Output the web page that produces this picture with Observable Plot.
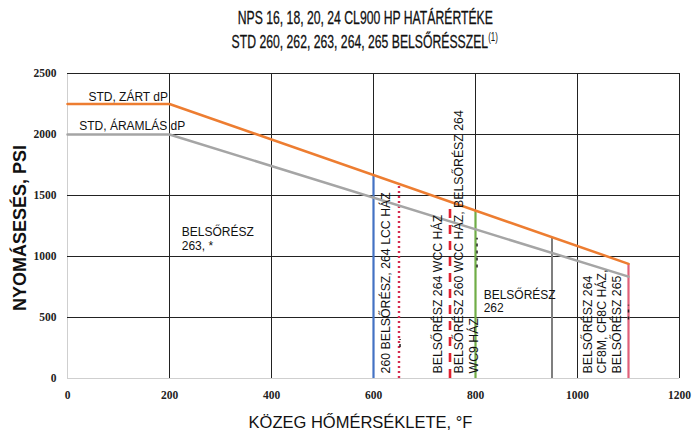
<!DOCTYPE html>
<html>
<head>
<meta charset="utf-8">
<script src="https://cdn.jsdelivr.net/npm/d3@7"></script>
<script src="https://cdn.jsdelivr.net/npm/@observablehq/plot@0.6"></script>
<style>
  html, body { margin: 0; padding: 0; background: #fff; }
  #title { width: 692px; height: 60px; box-sizing: border-box; padding-top: 6px; padding-left: 38px;
    text-align: center; font-family: "Liberation Sans", Arial, sans-serif;
    font-size: 18.5px; line-height: 24px; color: #111; -webkit-text-stroke: 0.3px #111; }
  #title span { display: inline-block; transform: scaleX(0.66); transform-origin: 50% 50%; white-space: nowrap; }
  #title sup { font-size: 12px; vertical-align: 7px; line-height: 0; -webkit-text-stroke: 0; }
  svg { display: block; }
</style>
</head>
<body>
<div id="title"><span>NPS 16, 18, 20, 24 CL900 HP HATÁRÉRTÉKE</span><br><span>STD 260, 262, 263, 264, 265 BELSŐRÉSSZEL<sup>(1)</sup></span></div>
<div id="chart"></div>
<script>
// ---- data ----
const xTicks = [0, 200, 400, 600, 800, 1000, 1200];
const yTicks = [0, 500, 1000, 1500, 2000, 2500];
const temps = [0, 200, 1100];
const closedDP = [2250, 2250, 940];   // STD, ZÁRT dP
const flowDP = [2000, 2000, 835];     // STD, ÁRAMLÁS dP
// vertical limit lines: temperature and the pressure they reach
const limitTemps = [600, 650, 750, 800, 950, 1100];
const limitTops = [1665, 1595, 1450, 1375, 1155, 940];
const limitNames = ["260/264 LCC", "264 LCC", "WCC", "WC9", "950", "CF8M"];
// small black dashed marks seen on the limit lines
const markX = [652, 803, 1100];
const markLow = [255, 905, 480];
const markHigh = [320, 1150, 600];
// annotation labels (data coordinates)
const seriesLabels = ["STD, ZÁRT dP", "STD, ÁRAMLÁS dP"];
const seriesLabelX = [41, 23];
const seriesLabelY = [2310, 2065];
const boxLabels = ["BELSŐRÉSZ\n263, *", "BELSŐRÉSZ\n262"];
const boxLabelX = [224, 816];
const boxLabelY = [1145, 632];
const vertLabels = ["260 BELSŐRÉSZ, 264 LCC HÁZ", "BELSŐRÉSZ 264 WCC HÁZ",
  "BELSŐRÉSZ 260 WCC HÁZ, BELSŐRÉSZ 264", "WC9 HÁZ",
  "BELSŐRÉSZ 264", "CF8M, CF8C HÁZ,", "BELSŐRÉSZ 265"];
const vertLabelX = [624, 727, 767, 797, 1020, 1049, 1078];
const vertLabelY = [42, 42, 42, 42, 42, 42, 42];
const xLabel = "KÖZEG HŐMÉRSÉKLETE, °F";
const yLabel = "NYOMÁSESÉS, PSI";

// ---- build tables ----
const closed = temps.map((t, i) => ({t, p: closedDP[i]}));
const flow = temps.map((t, i) => ({t, p: flowDP[i]}));
const limits = limitTemps.map((t, i) => ({t, p: limitTops[i], name: limitNames[i]}));
const marks = markX.map((t, i) => ({t, lo: markLow[i], hi: markHigh[i]}));
const sLab = seriesLabels.map((s, i) => ({s, x: seriesLabelX[i], y: seriesLabelY[i]}));
const bLab = boxLabels.map((s, i) => ({s, x: boxLabelX[i], y: boxLabelY[i]}));
const vLab = vertLabels.map((s, i) => ({s, x: vertLabelX[i], y: vertLabelY[i]}));

const limitStyle = [
  {stroke: "#4472C4", strokeWidth: 2.2, dash: null},
  {stroke: "#D42A4E", strokeWidth: 2.4, dash: "2,3"},
  {stroke: "#E0202E", strokeWidth: 2.6, dash: "9,7"},
  {stroke: "#70AD47", strokeWidth: 2.2, dash: null},
  {stroke: "#7F7F7F", strokeWidth: 2, dash: null},
  {stroke: "#E0607A", strokeWidth: 2.2, dash: null}
];

const sans = "'Liberation Sans', Arial, sans-serif";
const serif = "'Liberation Serif', 'Times New Roman', serif";
const gridColor = "#222";

const chart = Plot.plot({
  width: 692,
  height: 372,
  marginTop: 13,
  marginBottom: 54,
  marginLeft: 67,
  marginRight: 13,
  x: {domain: [0, 1200], axis: null},
  y: {domain: [0, 2500], axis: null},
  style: {fontFamily: sans, background: "#fff"},
  marks: [
    Plot.ruleX([0], {stroke: "#cfcfcf", strokeWidth: 1}),
    Plot.ruleY([0], {stroke: "#cfcfcf", strokeWidth: 1}),
    Plot.ruleX(xTicks.filter(d => d > 0), {stroke: gridColor, strokeWidth: 1}),
    Plot.ruleY(yTicks.filter(d => d > 0), {stroke: gridColor, strokeWidth: 1}),
    Plot.axisX({ticks: xTicks, tickSize: 0, tickPadding: 12, label: null, tickFormat: d => String(d),
      fontFamily: serif, fontWeight: "bold", fontSize: 11.5, fill: "#222"}),
    Plot.axisY({ticks: yTicks, tickSize: 0, tickPadding: 11, label: null, tickFormat: d => String(d),
      fontFamily: serif, fontWeight: "bold", fontSize: 11.5, fill: "#222"}),
    ...limits.map((d, i) => Plot.ruleX([d], {x: "t", y1: 0, y2: "p",
      stroke: limitStyle[i].stroke, strokeWidth: limitStyle[i].strokeWidth,
      strokeDasharray: limitStyle[i].dash})),
    Plot.ruleX(marks, {x: "t", y1: "lo", y2: "hi", stroke: "#222", strokeWidth: 1.5, strokeDasharray: "3,4"}),
    Plot.line(flow, {x: "t", y: "p", stroke: "#A5A5A5", strokeWidth: 2.5}),
    Plot.line(closed, {x: "t", y: "p", stroke: "#ED7D31", strokeWidth: 2.5}),
    Plot.text(sLab, {x: "x", y: "y", text: "s", textAnchor: "start", fontSize: 12, fill: "#111"}),
    Plot.text(bLab, {x: "x", y: "y", text: "s", textAnchor: "start", fontSize: 12, lineHeight: 1.1, fill: "#111"}),
    Plot.text(vLab, {x: "x", y: "y", text: "s", textAnchor: "start", rotate: -90, fontSize: 12.3, fill: "#111"}),
    Plot.text([yLabel], {frameAnchor: "left", textAnchor: "middle", rotate: -90, dx: -47, dy: 2, fontSize: 18, fontWeight: "bold", fill: "#111"}),
    Plot.text([xLabel], {frameAnchor: "bottom", textAnchor: "middle", dx: -13, dy: 49, fontSize: 16.5, fill: "#111"})
  ]
});
document.getElementById("chart").appendChild(chart);
</script>
</body>
</html>
